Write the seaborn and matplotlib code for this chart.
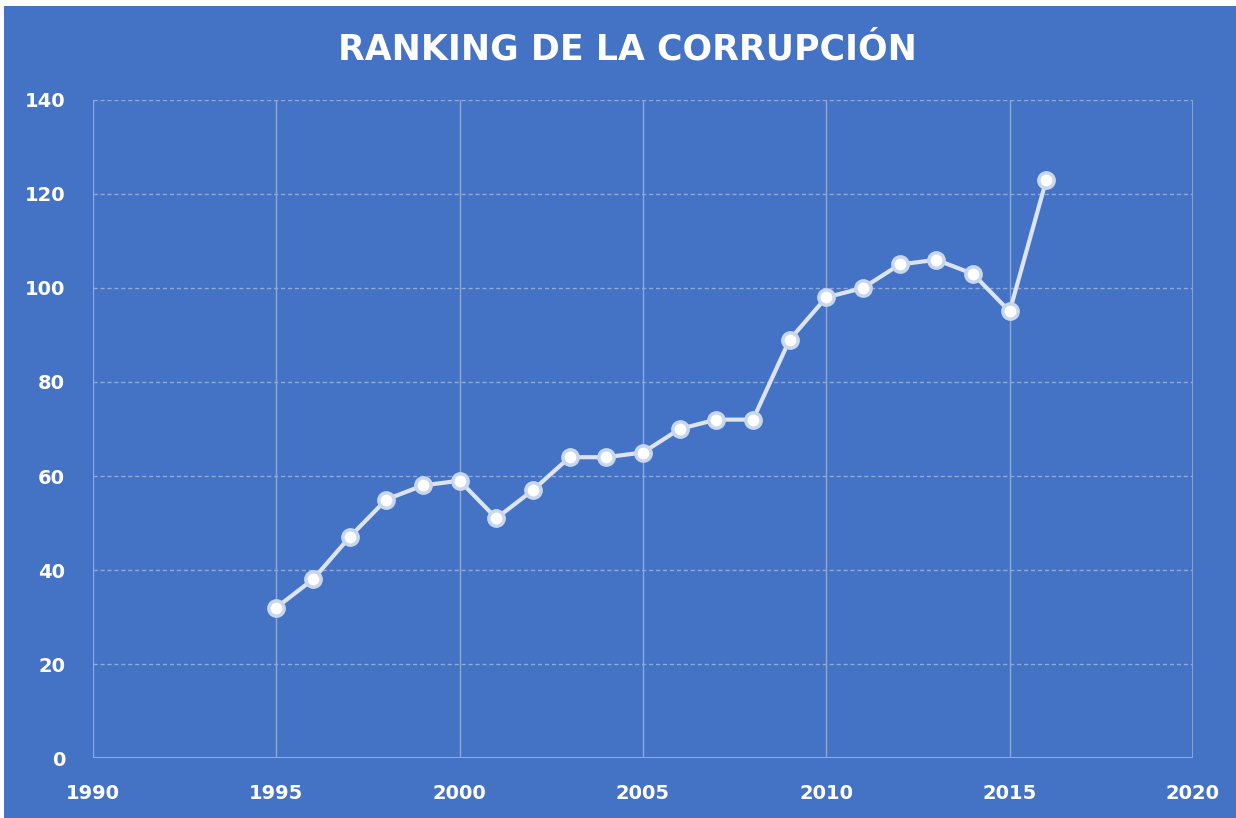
import matplotlib
matplotlib.use("Agg")
import matplotlib.pyplot as plt
import pandas as pd
import seaborn as sns
from matplotlib.patches import Rectangle

years = [1995, 1996, 1997, 1998, 1999, 2000, 2001, 2002, 2003, 2004, 2005,
         2006, 2007, 2008, 2009, 2010, 2011, 2012, 2013, 2014, 2015, 2016]
ranking = [32, 38, 47, 55, 58, 59, 51, 57, 64, 64, 65,
           70, 72, 72, 89, 98, 100, 105, 106, 103, 95, 123]
x_ticks = [1990, 1995, 2000, 2005, 2010, 2015, 2020]
y_ticks = [0, 20, 40, 60, 80, 100, 120, 140]
title = "RANKING DE LA CORRUPCIÓN"

bg = "#4472C4"
grid_col = "#8EAADB"

sns.set_style("darkgrid")
plt.rcParams['font.family'] = ['DejaVu Sans']

df = pd.DataFrame({"year": years, "ranking": ranking})

fig = plt.figure(figsize=(12.36, 8.18), dpi=100, facecolor="white")
fig.patches.append(Rectangle((0.003, 0), 0.997, 0.993, transform=fig.transFigure,
                             facecolor=bg, edgecolor="none", zorder=-10))
ax = fig.add_axes([0.0752, 0.0733, 0.8900, 0.8045])
ax.set_facecolor(bg)

sns.lineplot(data=df, x="year", y="ranking", ax=ax, color="#DCE4F2", linewidth=3,
             marker="o", markersize=11, markerfacecolor="white",
             markeredgecolor="#C9D7EE", markeredgewidth=2.5, zorder=5)

ax.set_xlim(1990, 2020)
ax.set_ylim(0, 140)
ax.set_xticks(x_ticks)
ax.set_yticks(y_ticks)
ax.set_xlabel("")
ax.set_ylabel("")

ax.yaxis.grid(True, color=grid_col, linewidth=1, linestyle=(0, (3, 2)))
ax.xaxis.grid(True, color=grid_col, linewidth=1, linestyle="-")
for s in ax.spines.values():
    s.set_visible(False)
ax.axhline(0, color=grid_col, linewidth=1.5, zorder=1)
ax.axvline(2020, color=grid_col, linewidth=1.2, zorder=1)

ax.tick_params(axis="both", length=0, labelcolor="white", labelsize=14)
ax.tick_params(axis="y", pad=20)
ax.tick_params(axis="x", pad=19)
for lab in ax.get_xticklabels() + ax.get_yticklabels():
    lab.set_fontweight("bold")

fig.text(0.508, 0.939, title, ha="center", va="center", color="white",
         fontsize=25, fontweight="bold")

fig.savefig("out.png", dpi=100, facecolor=fig.get_facecolor())
